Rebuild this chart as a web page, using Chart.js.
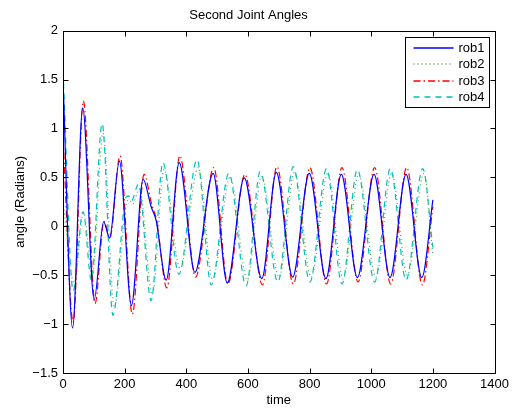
<!DOCTYPE html>
<html>
<head>
<meta charset="utf-8">
<script src="https://cdn.jsdelivr.net/npm/chart.js@4/dist/chart.umd.min.js"></script>
<style>
  body { margin: 0; background: #fff; }
</style>
</head>
<body>
<canvas id="myChart" width="513" height="410"></canvas>
<script>
// values (peaks, troughs and a few shape points)
const rob1T = [0, 31, 64, 101, 132, 151, 183, 222, 260, 286, 302, 335, 377, 428, 487, 533, 588, 645, 692, 745, 799, 853, 903, 955, 1009, 1061, 1113, 1164, 1200];
const rob1Y = [1.5, -1.04, 1.21, -0.75, 0.045, -0.12, 0.665, -0.81, 0.48, 0.2, 0.06, -0.55, 0.65, -0.47, 0.54, -0.58, 0.495, -0.535, 0.55, -0.52, 0.54, -0.535, 0.53, -0.525, 0.53, -0.525, 0.53, -0.525, 0.27];

const rob2T = [0, 36, 67, 95, 130, 166, 205, 215, 226, 248, 290, 328, 380, 439, 485, 542, 598, 644, 701, 751, 805, 859, 909, 959, 1015, 1066, 1117, 1171, 1200];
const rob2Y = [0.25, -0.58, 0.14, -0.5, 0.95, -0.82, 0.22, 0.27, 0.23, 0.38, -0.7, 0.58, -0.43, 0.6, -0.54, 0.5, -0.55, 0.51, -0.52, 0.55, -0.52, 0.54, -0.54, 0.53, -0.52, 0.54, -0.5, 0.54, -0.3];

const rob3T = [0, 33, 66, 104, 133, 152, 185, 225, 263, 288, 303, 337, 379, 430, 489, 535, 590, 647, 694, 747, 801, 855, 905, 957, 1011, 1063, 1115, 1166, 1200];
const rob3Y = [0.9, -0.98, 1.28, -0.79, 0.05, -0.12, 0.72, -0.9, 0.53, 0.22, 0.07, -0.63, 0.72, -0.52, 0.6, -0.59, 0.53, -0.6, 0.61, -0.59, 0.6, -0.59, 0.6, -0.57, 0.6, -0.59, 0.6, -0.6, 0.2];

const rob4T = [0, 33, 65, 92, 127, 162, 205, 213, 222, 245, 286, 324, 376, 435, 481, 538, 594, 640, 697, 747, 801, 855, 905, 955, 1011, 1062, 1113, 1167, 1200];
const rob4Y = [1.58, -0.66, 0.15, -0.55, 1.05, -0.91, 0.3, 0.31, 0.26, 0.43, -0.76, 0.65, -0.49, 0.68, -0.6, 0.54, -0.61, 0.56, -0.57, 0.61, -0.57, 0.59, -0.59, 0.58, -0.57, 0.59, -0.55, 0.59, -0.22];

const seriesNames = ["rob1", "rob2", "rob3", "rob4"];
const xTicks = [0, 200, 400, 600, 800, 1000, 1200, 1400];
const yTicks = [-1.5, -1, -0.5, 0, 0.5, 1, 1.5, 2];

const colors = ["#0000ff", "#44b044", "#ff0000", "#00bfbf"];
const dashes = [[], [1, 3], [7, 3, 1.5, 3], [6, 5]];

const toPoints = (ts, ys) => ts.map((t, i) => ({ x: t, y: ys[i] }));

Chart.defaults.font.family = "'Liberation Sans', Arial, sans-serif";
Chart.defaults.font.size = 13;
Chart.defaults.color = "#000";

// MATLAB style box with inward ticks + legend inside the axes
const matlabBox = {
  id: "matlabBox",
  afterDraw(chart) {
    const ctx = chart.ctx;
    const a = chart.chartArea;
    const xs = chart.scales.x;
    const ys = chart.scales.y;
    ctx.save();
    ctx.strokeStyle = "#000";
    ctx.lineWidth = 1;
    ctx.setLineDash([]);
    const L = Math.round(a.left) + 0.5, R = Math.round(a.right) + 0.5;
    const T = Math.round(a.top) + 0.5, B = Math.round(a.bottom) + 0.5;
    ctx.strokeRect(L, T, R - L, B - T);
    ctx.beginPath();
    xTicks.forEach(v => {
      const px = Math.round(xs.getPixelForValue(v)) + 0.5;
      ctx.moveTo(px, B); ctx.lineTo(px, B - 5);
      ctx.moveTo(px, T); ctx.lineTo(px, T + 5);
    });
    yTicks.forEach(v => {
      const py = Math.round(ys.getPixelForValue(v)) + 0.5;
      ctx.moveTo(L, py); ctx.lineTo(L + 5, py);
      ctx.moveTo(R, py); ctx.lineTo(R - 5, py);
    });
    ctx.stroke();

    // legend
    const bx = R - 90, by = T + 6, bw = 84, bh = 70;
    ctx.fillStyle = "#fff";
    ctx.fillRect(bx, by, bw, bh);
    ctx.strokeRect(bx, by, bw, bh);
    ctx.font = "13px 'Liberation Sans', Arial, sans-serif";
    ctx.textBaseline = "middle";
    ctx.textAlign = "left";
    seriesNames.forEach((name, i) => {
      const y = Math.round(by + 10 + i * 16.5);
      ctx.lineWidth = 1.5;
      ctx.strokeStyle = colors[i];
      ctx.setLineDash(dashes[i]);
      ctx.beginPath();
      ctx.moveTo(bx + 8, y);
      ctx.lineTo(bx + 48, y);
      ctx.stroke();
      ctx.fillStyle = "#000";
      ctx.fillText(name, bx + 53, y);
    });
    ctx.restore();
  }
};

const seriesT = [rob1T, rob2T, rob3T, rob4T];
const seriesY = [rob1Y, rob2Y, rob3Y, rob4Y];

new Chart(document.getElementById("myChart").getContext("2d"), {
  type: "line",
  data: {
    datasets: seriesNames.map((name, i) => ({
      label: name,
      data: toPoints(seriesT[i], seriesY[i]),
      borderColor: colors[i],
      borderDash: dashes[i],
      borderWidth: 1.2,
      pointRadius: 0,
      fill: false,
      cubicInterpolationMode: "monotone"
    }))
  },
  options: {
    responsive: false,
    animation: false,
    layout: { padding: { left: 0, right: 16, top: 0, bottom: 0 } },
    plugins: {
      legend: { display: false },
      tooltip: { enabled: false },
      title: {
        display: true,
        text: "Second Joint Angles",
        font: { size: 13, weight: "normal" },
        color: "#000",
        padding: { top: 8, bottom: 7 }
      }
    },
    scales: {
      x: {
        type: "linear",
        min: 0,
        max: 1400,
        afterFit: s => { s.height = 37; },
        afterBuildTicks: s => { s.ticks = xTicks.map(v => ({ value: v })); },
        grid: { display: false, drawTicks: false },
        border: { display: false },
        ticks: { padding: 4, maxRotation: 0, autoSkip: false, callback: v => String(v) },
        title: { display: true, text: "time", padding: { top: 0, bottom: 2 } }
      },
      y: {
        type: "linear",
        min: -1.5,
        max: 2,
        afterFit: s => { s.width = 63; },
        afterBuildTicks: s => { s.ticks = yTicks.map(v => ({ value: v })); },
        grid: { display: false, drawTicks: false },
        border: { display: false },
        ticks: {
          padding: 5,
          autoSkip: false,
          callback: v => String(v).replace("-", "\u2212")
        },
        title: { display: true, text: "angle (Radians)", padding: { top: 13, bottom: 0 } }
      }
    }
  },
  plugins: [matlabBox]
});
</script>
</body>
</html>
